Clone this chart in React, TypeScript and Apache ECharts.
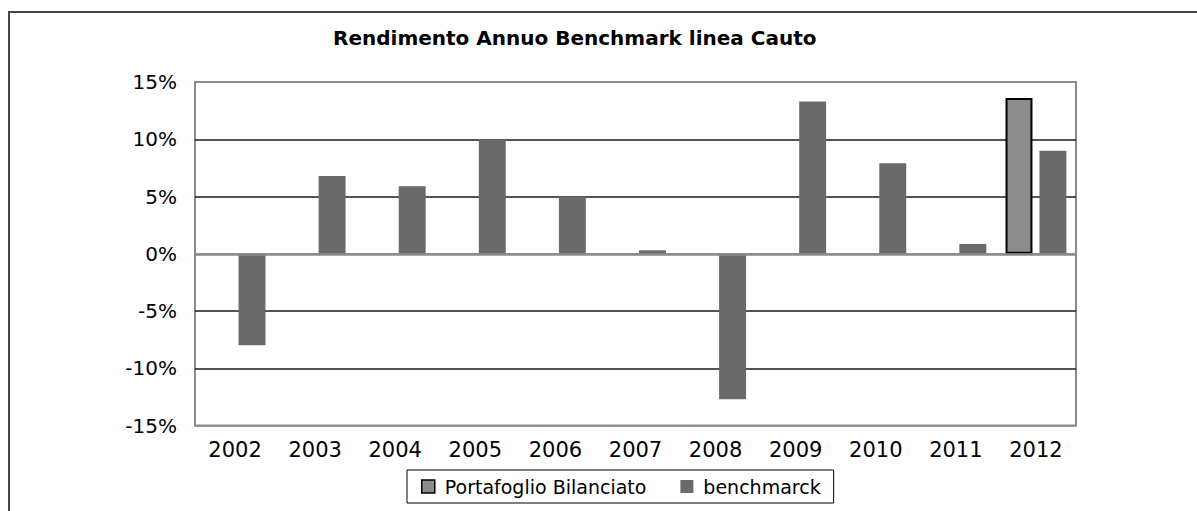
import React, { useEffect, useRef } from "react";
import * as echarts from "echarts";

const years = ["2002", "2003", "2004", "2005", "2006", "2007", "2008", "2009", "2010", "2011", "2012"];
const portafoglio = [null, null, null, null, null, null, null, null, null, null, 13.6];
const benchmarck = [-8.0, 6.8, 5.9, 10.0, 5.0, 0.3, -12.7, 13.3, 7.9, 0.85, 9.0];
const yTicks = { min: -15, max: 15, interval: 5 };

const FONT = "DejaVu Sans";

export default function App() {
  const ref = useRef<HTMLDivElement>(null);
  useEffect(() => {
    if (!ref.current) return;
    const chart = echarts.init(ref.current, null, { renderer: "svg" });
    chart.setOption({
      animation: false,
      backgroundColor: "#fff",
      textStyle: { fontFamily: FONT },
      title: {
        text: "Rendimento Annuo Benchmark linea Cauto",
        left: 333,
        top: 28,
        padding: 0,
        textStyle: { fontFamily: FONT, fontSize: 20, fontWeight: "bold", color: "#000" },
      },
      graphic: [
        {
          type: "rect",
          shape: { x: 9, y: 12, width: 1400, height: 700 },
          style: { fill: "none", stroke: "#444", lineWidth: 2 },
          silent: true,
        },
      ],
      legend: {
        left: 407,
        top: 470,
        padding: [7, 13, 7, 14],
        borderColor: "#000",
        borderWidth: 1,
        itemWidth: 13,
        itemHeight: 13,
        itemGap: 34,
        textStyle: { fontFamily: FONT, fontSize: 19, color: "#000", padding: [0, 0, 0, 5] },
        data: [
          { name: "Portafoglio Bilanciato", icon: "rect", itemStyle: { color: "#8c8c8c", borderColor: "#000", borderWidth: 1.5 } },
          { name: "benchmarck", icon: "rect", itemStyle: { color: "#6a6a6a", borderWidth: 0 } },
        ],
      },
      grid: {
        left: 195,
        top: 82,
        right: 121,
        bottom: 85.5,
        show: true,
        borderColor: "#8a8a8a",
        borderWidth: 2,
        backgroundColor: "transparent",
      },
      xAxis: {
        type: "category",
        data: years,
        axisLine: { show: false, onZero: false },
        axisTick: { show: false },
        axisLabel: { fontFamily: FONT, fontSize: 21, color: "#000", margin: 14 },
        splitLine: { show: false },
      },
      yAxis: {
        type: "value",
        min: yTicks.min,
        max: yTicks.max,
        interval: yTicks.interval,
        axisLine: { show: false },
        axisTick: { show: false },
        axisLabel: {
          fontFamily: FONT,
          fontSize: 20,
          color: "#000",
          margin: 18,
          formatter: (v: number) => `${v}%`,
        },
        splitLine: {
          show: true,
          lineStyle: {
            color: ["#8a8a8a", "#1a1a1a", "#1a1a1a", "#8a8a8a", "#1a1a1a", "#1a1a1a", "#8a8a8a"],
            width: 1.5,
          },
        },
      },
      series: [
        {
          name: "Portafoglio Bilanciato",
          type: "bar",
          data: portafoglio,
          barGap: "26%",
          barCategoryGap: "24%",
          itemStyle: { color: "#8c8c8c", borderColor: "#000", borderWidth: 2 },
          z: 3,
        },
        {
          name: "benchmarck",
          type: "bar",
          data: benchmarck,
          barGap: "26%",
          barCategoryGap: "24%",
          itemStyle: { color: "#6a6a6a" },
          z: 2,
          markLine: {
            silent: true,
            symbol: "none",
            label: { show: false },
            lineStyle: { color: "#8a8a8a", width: 2.5, type: "solid" },
            data: [{ yAxis: 0 }],
            z: 4,
          },
        },
      ],
    });
    return () => chart.dispose();
  }, []);
  return (
    <div
      ref={ref}
      style={{ position: "fixed", left: 0, top: 0, width: 1197, height: 511 }}
    />
  );
}
